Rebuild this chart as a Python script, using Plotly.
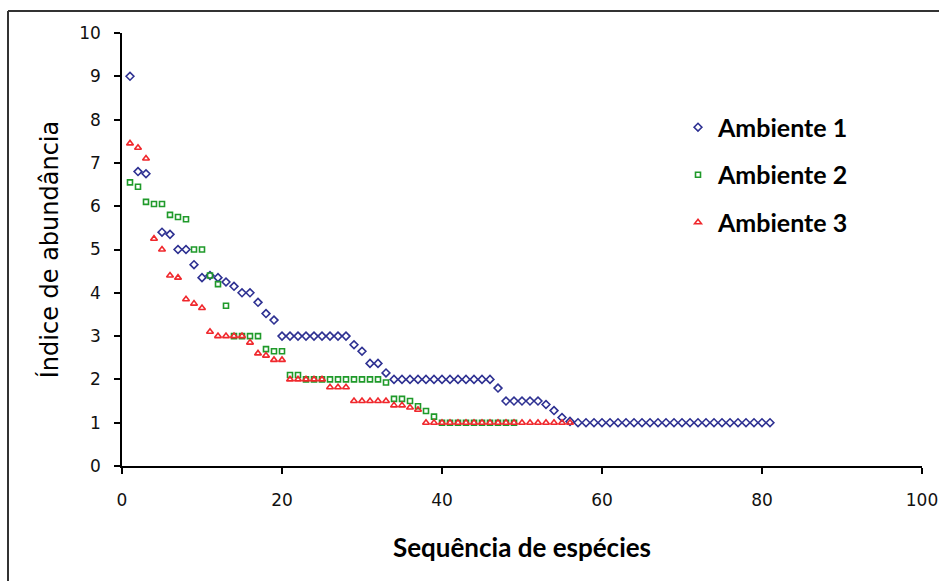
import plotly.graph_objects as go

# Ambiente 1 (blue)
x1 = [1, 2, 3, 5, 6, 7, 8, 9, 10, 11, 12, 13, 14, 15, 16, 17, 18, 19,
      20, 21, 22, 23, 24, 25, 26, 27, 28, 29, 30, 31, 32, 33,
      34, 35, 36, 37, 38, 39, 40, 41, 42, 43, 44, 45, 46, 47,
      48, 49, 50, 51, 52, 53, 54, 55,
      56, 57, 58, 59, 60, 61, 62, 63, 64, 65, 66, 67, 68, 69, 70,
      71, 72, 73, 74, 75, 76, 77, 78, 79, 80, 81]
y1 = [9.0, 6.8, 6.75, 5.4, 5.35, 5.0, 5.0, 4.65, 4.35, 4.4, 4.35, 4.25, 4.15, 4.0, 4.0, 3.78, 3.52, 3.37,
      3.0, 3.0, 3.0, 3.0, 3.0, 3.0, 3.0, 3.0, 3.0, 2.8, 2.65, 2.37, 2.37, 2.15,
      2.0, 2.0, 2.0, 2.0, 2.0, 2.0, 2.0, 2.0, 2.0, 2.0, 2.0, 2.0, 2.0, 1.8,
      1.5, 1.5, 1.5, 1.5, 1.5, 1.42, 1.28, 1.12,
      1.03, 1.0, 1.0, 1.0, 1.0, 1.0, 1.0, 1.0, 1.0, 1.0, 1.0, 1.0, 1.0, 1.0, 1.0,
      1.0, 1.0, 1.0, 1.0, 1.0, 1.0, 1.0, 1.0, 1.0, 1.0, 1.0]

# Ambiente 2 (green)
x2 = list(range(1, 50))
y2 = [6.55, 6.45, 6.1, 6.05, 6.05, 5.8, 5.75, 5.7, 5.0, 5.0,
      4.4, 4.2, 3.7, 3.0, 3.0, 3.0, 3.0, 2.7, 2.65, 2.65,
      2.1, 2.1, 2.0, 2.0, 2.0, 2.0, 2.0, 2.0, 2.0, 2.0,
      2.0, 2.0, 1.93, 1.55, 1.55, 1.5, 1.38, 1.27, 1.14, 1.0,
      1.0, 1.0, 1.0, 1.0, 1.0, 1.0, 1.0, 1.0, 1.0]

# Ambiente 3 (red)
x3 = list(range(1, 57))
y3 = [7.45, 7.35, 7.1, 5.25, 5.0, 4.4, 4.35, 3.85, 3.75, 3.65,
      3.1, 3.0, 3.0, 3.0, 3.0, 2.85, 2.6, 2.55, 2.45, 2.45,
      2.0, 2.0, 2.0, 2.0, 2.0, 1.82, 1.82, 1.82, 1.5, 1.5,
      1.5, 1.5, 1.5, 1.4, 1.4, 1.35, 1.3, 1.0, 1.0, 1.0,
      1.0, 1.0, 1.0, 1.0, 1.0, 1.0, 1.0, 1.0, 1.0, 1.0,
      1.0, 1.0, 1.0, 1.0, 1.0, 1.0]

names = ["Ambiente 1", "Ambiente 2", "Ambiente 3"]
x_ticks = [0, 20, 40, 60, 80, 100]
y_ticks = list(range(0, 11))

fig = go.Figure()
series = [
    (x1, y1, names[0], "#2e3192", "diamond-open", 6),
    (x2, y2, names[1], "#1f9a2a", "square-open", 5),
    (x3, y3, names[2], "#f0282d", "triangle-up-open", 6),
]
for i, (xs, ys, nm, col, sym, sz) in enumerate(series):
    fig.add_trace(go.Scatter(
        x=xs, y=ys, mode="markers", name=nm, legendgroup=f"g{i}",
        marker=dict(symbol=sym, size=sz, color=col, line=dict(width=1.6, color=col)),
    ))

axis_font = dict(family="DejaVu Sans", size=17, color="#111")
fig.update_layout(
    width=939, height=581,
    margin=dict(l=122, r=17, t=33, b=115),
    paper_bgcolor="white", plot_bgcolor="white",
    showlegend=True,
    legend=dict(
        x=0.695, y=0.835, xanchor="left", yanchor="top",
        font=dict(family="Lato", size=25, color="#000", weight="bold"),
        tracegroupgap=12, bgcolor="rgba(0,0,0,0)",
    ),
    xaxis=dict(
        range=[0, 100], tickvals=x_ticks, ticktext=[str(v) for v in x_ticks],
        showline=True, linecolor="#000", linewidth=1.5,
        ticks="outside", ticklen=6, tickcolor="#000", tickwidth=1.5,
        ticklabelstandoff=12,
        showgrid=False, zeroline=False, tickfont=axis_font, automargin=False,
        title=dict(text="Sequência de espécies", standoff=30,
                   font=dict(family="Lato", size=26, color="#000", weight="bold")),
    ),
    yaxis=dict(
        range=[0, 10], tickvals=y_ticks, ticktext=[str(v) for v in y_ticks],
        showline=True, linecolor="#000", linewidth=1.5,
        ticks="outside", ticklen=6, tickcolor="#000", tickwidth=1.5,
        ticklabelstandoff=10,
        showgrid=False, zeroline=False, tickfont=axis_font, automargin=False,
        title=dict(text="Índice de abundância", standoff=14,
                   font=dict(family="DejaVu Sans", size=24, color="#000")),
    ),
)

# outer frame (left and top edges of the picture border)
fig.add_shape(type="line", xref="paper", yref="paper",
              x0=-0.1425, y0=1.0508, x1=1.03, y1=1.0508,
              line=dict(color="#333", width=2))
fig.add_shape(type="line", xref="paper", yref="paper",
              x0=-0.1425, y0=1.0508, x1=-0.1425, y1=-0.28,
              line=dict(color="#333", width=2))

fig.write_html("out.html", config={"displayModeBar": False},
               post_script="document.body.style.margin='0';")
